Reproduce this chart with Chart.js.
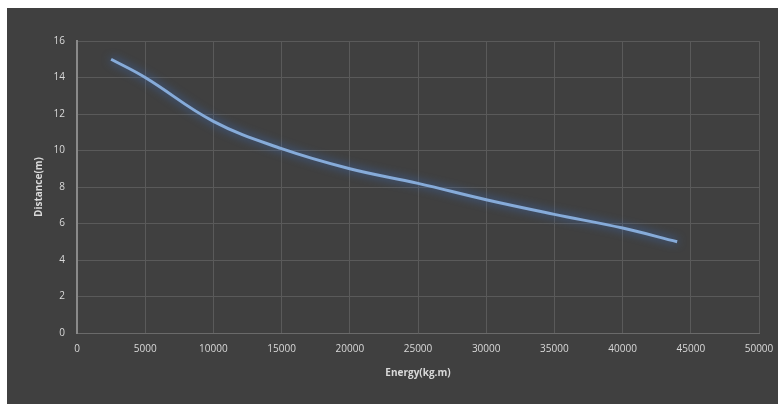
<!DOCTYPE html>
<html>
<head>
<meta charset="utf-8">
<script src="https://cdn.jsdelivr.net/npm/chart.js@4"></script>
<style>
  body { margin: 0; background: #ffffff; overflow: hidden; }
  #wrap { position: absolute; left: 7px; top: 8px; width: 771px; height: 396px; background: #404040; }
</style>
</head>
<body>
<div id="wrap"><canvas id="chart"></canvas></div>
<script>
const energy = [2500, 5000, 10000, 15000, 20000, 25000, 30000, 35000, 40000, 44000];
const distance = [15, 14, 11.6, 10.1, 9, 8.2, 7.3, 6.5, 5.75, 5];
const xTitle = 'Energy(kg.m)';
const yTitle = 'Distance(m)';

const points = energy.map((e, i) => ({ x: e, y: distance[i] }));

const glow = {
    id: 'glow',
    beforeDatasetDraw(chart) {
        const ctx = chart.ctx;
        ctx.save();
        ctx.shadowColor = 'rgba(60,110,190,1)';
        ctx.shadowBlur = 10;
    },
    afterDatasetDraw(chart) {
        chart.ctx.restore();
    }
};

const config = {
    type: 'scatter',
    data: {
        datasets: [{
            data: points,
            showLine: true,
            borderColor: '#86abd9',
            borderWidth: 3,
            pointRadius: 0,
            tension: 0.4,
            fill: false
        }]
    },
    options: {
        responsive: true,
        maintainAspectRatio: false,
        animation: false,
        layout: { padding: { top: 33, right: 19, left: 22, bottom: 21 } },
        plugins: {
            legend: { display: false },
            tooltip: { enabled: false }
        },
        scales: {
            x: {
                type: 'linear',
                min: 0,
                max: 50000,
                ticks: {
                    stepSize: 5000, color: '#d9d9d9', font: { size: 10, family: 'Open Sans' }, padding: 10,
                    callback: v => String(v)
                },
                grid: { color: '#5a5a5a', lineWidth: 1, drawTicks: false },
                border: { color: '#6a6a6a' },
                title: { display: true, text: xTitle, color: '#d9d9d9', font: { size: 10, family: 'Open Sans', weight: 'bold' }, padding: { top: 6 } },
                afterFit(scale) {
                    scale.height = 50;
                    scale.paddingRight = 0;
                    scale.paddingLeft = 0;
                }
            },
            y: {
                min: 0,
                max: 16,
                ticks: { stepSize: 2, color: '#d9d9d9', font: { size: 10, family: 'Open Sans' }, padding: 12 },
                grid: { color: '#5a5a5a', lineWidth: 1, drawTicks: false },
                border: { color: '#8a8a8a', width: 2 },
                title: { display: true, text: yTitle, color: '#d9d9d9', font: { size: 10, family: 'Open Sans', weight: 'bold' }, padding: { bottom: 4 } },
                afterFit(scale) { scale.width = 48; }
            }
        }
    },
    plugins: [glow]
};

new Chart(document.getElementById('chart').getContext('2d'), config);
</script>
</body>
</html>
